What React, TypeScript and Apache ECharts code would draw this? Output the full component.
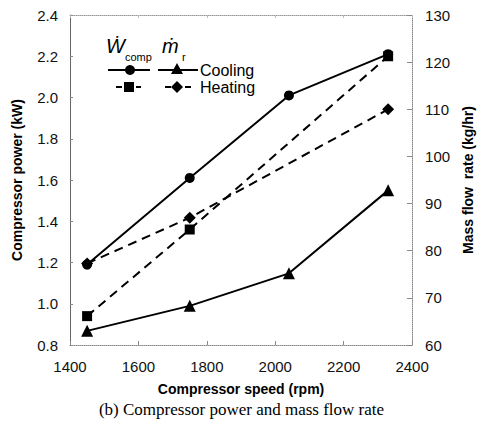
import React, { useEffect, useRef } from "react";
import * as echarts from "echarts";

const speeds = [1450, 1750, 2040, 2330];
const heatingSpeeds = [1450, 1750, 2330];
const powerCooling = [1.19, 1.61, 2.01, 2.21];
const powerHeating = [0.94, 1.36, 2.2];
const flowCooling = [63, 68.3, 75.2, 92.8];
const flowHeating = [77.3, 87, 110];

const FONT = "'Liberation Sans', Arial, sans-serif";

export default function App() {
  const ref = useRef<HTMLDivElement>(null);
  useEffect(() => {
    if (!ref.current) return;
    const chart = echarts.init(ref.current, undefined, { renderer: "svg" });
    const pair = (xs: number[], ys: number[]) => xs.map((x, i) => [x, ys[i]]);
    const axisLabel = { color: "#111", fontSize: 15, fontFamily: FONT };
    const nameStyle = { color: "#000", fontSize: 14, fontWeight: "bold" as const, fontFamily: FONT };
    chart.setOption({
      animation: false,
      backgroundColor: "#fff",
      grid: { left: 70, right: 59, top: 15, bottom: 85 },
      xAxis: [
        {
          type: "value",
          min: 1400,
          max: 2400,
          interval: 200,
          position: "bottom",
          name: "Compressor speed (rpm)",
          nameLocation: "middle",
          nameGap: 37,
          nameTextStyle: nameStyle,
          axisLine: { lineStyle: { color: "#888", type: "dotted", width: 1 } },
          axisTick: { inside: true, length: 4, lineStyle: { color: "#888" } },
          axisLabel: { ...axisLabel, margin: 14, formatter: (v: number) => String(v) },
          splitLine: { show: false },
        },
        {
          type: "value",
          min: 1400,
          max: 2400,
          interval: 200,
          position: "top",
          axisLine: { lineStyle: { color: "#999", type: "dotted", width: 1 } },
          axisTick: { inside: true, length: 3, lineStyle: { color: "#bbb" } },
          axisLabel: { show: false },
          splitLine: { show: false },
        },
      ],
      yAxis: [
        {
          type: "value",
          min: 0.8,
          max: 2.4,
          interval: 0.2,
          position: "left",
          name: "Compressor power (kW)",
          nameLocation: "middle",
          nameRotate: 90,
          nameGap: 46,
          nameTextStyle: nameStyle,
          axisLine: { show: true, lineStyle: { color: "#666", width: 1 } },
          axisTick: { show: true, inside: true, length: 3, lineStyle: { color: "#888" } },
          axisLabel: { ...axisLabel, margin: 12, formatter: (v: number) => v.toFixed(1) },
          splitLine: { show: false },
        },
        {
          type: "value",
          min: 60,
          max: 130,
          interval: 10,
          position: "right",
          name: "Mass flow  rate (kg/hr)",
          nameLocation: "middle",
          nameRotate: 90,
          nameGap: 41,
          nameTextStyle: nameStyle,
          axisLine: { show: true, lineStyle: { color: "#888", type: "dotted", width: 1 } },
          axisTick: { show: true, inside: true, length: 5, lineStyle: { color: "#888" } },
          axisLabel: { ...axisLabel, margin: 13 },
          splitLine: { show: false },
        },
      ],
      series: [
        {
          name: "W cooling",
          type: "line",
          yAxisIndex: 0,
          data: pair(speeds, powerCooling),
          symbol: "circle",
          symbolSize: 10,
          itemStyle: { color: "#000" },
          lineStyle: { color: "#000", width: 2 },
          z: 4,
        },
        {
          name: "W heating",
          type: "line",
          yAxisIndex: 0,
          data: pair(heatingSpeeds, powerHeating),
          symbol: "rect",
          symbolSize: 10,
          itemStyle: { color: "#000" },
          lineStyle: { color: "#000", width: 2, type: [9, 6] },
          z: 3,
        },
        {
          name: "m cooling",
          type: "line",
          yAxisIndex: 1,
          data: pair(speeds, flowCooling),
          symbol: "triangle",
          symbolSize: 12,
          itemStyle: { color: "#000" },
          lineStyle: { color: "#000", width: 2 },
          z: 3,
        },
        {
          name: "m heating",
          type: "line",
          yAxisIndex: 1,
          data: pair(heatingSpeeds, flowHeating),
          symbol: "diamond",
          symbolSize: 12,
          itemStyle: { color: "#000" },
          lineStyle: { color: "#000", width: 2, type: [9, 6] },
          z: 3,
        },
      ],
      graphic: [
        { type: "text", left: 106, top: 36, style: { text: "Ẇ", fontSize: 20, fontStyle: "italic", fontFamily: FONT, fill: "#000" } },
        { type: "text", left: 125, top: 51, style: { text: "comp", fontSize: 11, fontFamily: FONT, fill: "#000" } },
        { type: "text", left: 162, top: 36, style: { text: "ṁ", fontSize: 20, fontStyle: "italic", fontFamily: FONT, fill: "#000" } },
        { type: "text", left: 182, top: 51, style: { text: "r", fontSize: 11, fontFamily: FONT, fill: "#000" } },
        { type: "line", shape: { x1: 108, y1: 70, x2: 150, y2: 70 }, style: { stroke: "#000", lineWidth: 2 } },
        { type: "circle", shape: { cx: 130, cy: 70, r: 5 }, style: { fill: "#000" } },
        { type: "line", shape: { x1: 158, y1: 70, x2: 198, y2: 70 }, style: { stroke: "#000", lineWidth: 2 } },
        { type: "polygon", shape: { points: [[177, 63], [171, 74], [183, 74]] }, style: { fill: "#000" } },
        { type: "text", left: 200, top: 62, style: { text: "Cooling", fontSize: 16, fontFamily: FONT, fill: "#000" } },
        { type: "line", shape: { x1: 116, y1: 87, x2: 141, y2: 87 }, style: { stroke: "#000", lineWidth: 2, lineDash: [6, 4] } },
        { type: "rect", shape: { x: 124, y: 82, width: 10, height: 10 }, style: { fill: "#000" } },
        { type: "line", shape: { x1: 165, y1: 87, x2: 191, y2: 87 }, style: { stroke: "#000", lineWidth: 2, lineDash: [6, 4] } },
        { type: "polygon", shape: { points: [[177, 81], [183, 87], [177, 93], [171, 87]] }, style: { fill: "#000" } },
        { type: "text", left: 200, top: 79, style: { text: "Heating", fontSize: 16, fontFamily: FONT, fill: "#000" } },
        {
          type: "text",
          left: "center",
          top: 401,
          style: { text: "(b) Compressor power and mass flow rate", fontSize: 17, fontFamily: "'Liberation Serif', 'Times New Roman', serif", fill: "#000" },
        },
      ],
    });
    return () => chart.dispose();
  }, []);
  return (
    <div
      ref={ref}
      style={{ position: "fixed", left: 0, top: 0, width: 483, height: 430, background: "#fff" }}
    />
  );
}
